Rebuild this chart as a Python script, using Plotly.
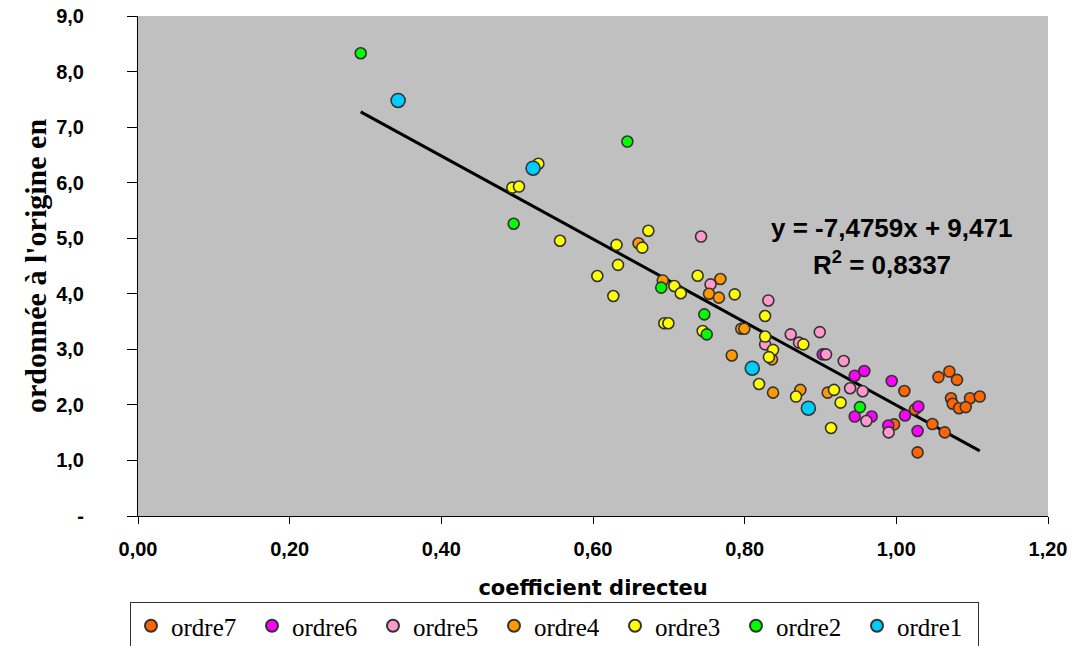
import plotly.graph_objects as go

# ---- data (x = coefficient directeur, y = ordonnée à l'origine) ----
ordre7_x = [1.0106, 1.0246, 0.997, 1.0475, 1.0638, 1.028, 1.0555, 1.0699, 1.080, 1.0721, 1.0743, 1.0972, 1.110, 1.0827, 1.0915]
ordre7_y = [2.25, 1.92, 1.65, 1.656, 1.506, 1.146, 2.50, 2.60, 2.45, 2.12, 2.02, 2.12, 2.15, 1.94, 1.96]

ordre6_x = [0.9029, 0.9451, 0.9578, 0.9939, 0.9451, 0.9675, 0.9894, 1.0114, 1.029, 1.028]
ordre6_y = [2.91, 2.525, 2.61, 2.43, 1.79, 1.79, 1.63, 1.81, 1.97, 1.53]

ordre5_x = [0.7425, 0.755, 0.8312, 0.827, 0.8607, 0.8717, 0.899, 0.9073, 0.9306, 0.939, 0.9556, 0.9605, 0.9899]
ordre5_y = [5.03, 4.17, 3.88, 3.09, 3.27, 3.12, 3.31, 2.91, 2.79, 2.30, 2.245, 1.71, 1.506]

ordre4_x = [0.660, 0.768, 0.692, 0.7530, 0.766, 0.783, 0.7955, 0.7995, 0.836, 0.8374, 0.8734, 0.9095]
ordre4_y = [4.91, 4.266, 4.24, 4.00, 3.93, 2.89, 3.37, 3.37, 2.82, 2.22, 2.27, 2.22]

ordre3_x = [0.528, 0.4936, 0.5024, 0.5565, 0.673, 0.631, 0.665, 0.633, 0.6057, 0.6268, 0.738, 0.7072, 0.7157, 0.7869,
            0.694, 0.6994, 0.7446, 0.8269, 0.827, 0.8374, 0.832, 0.819, 0.8774, 0.8677, 0.9178, 0.9265, 0.9139]
ordre3_y = [6.34, 5.91, 5.93, 4.955, 5.135, 4.88, 4.83, 4.52, 4.32, 3.96, 4.325, 4.14, 4.01, 3.99,
            3.47, 3.47, 3.33, 3.60, 3.23, 2.99, 2.86, 2.376, 3.09, 2.15, 2.27, 2.04, 1.584]

ordre2_x = [0.2937, 0.6453, 0.4954, 0.690, 0.7468, 0.750, 0.952]
ordre2_y = [8.33, 6.74, 5.26, 4.11, 3.63, 3.27, 1.96]

ordre1_x = [0.343, 0.521, 0.810, 0.884]
ordre1_y = [7.48, 6.26, 2.66, 1.94]

slope = -7.4759
intercept = 9.471
r2 = 0.8337

x_ticks = [0.0, 0.2, 0.4, 0.6, 0.8, 1.0, 1.2]
x_ticktext = ["0,00", "0,20", "0,40", "0,60", "0,80", "1,00", "1,20"]
y_ticks = [0, 1, 2, 3, 4, 5, 6, 7, 8, 9]
y_ticktext = ["-", "1,0", "2,0", "3,0", "4,0", "5,0", "6,0", "7,0", "8,0", "9,0"]

series = [
    ("ordre7", ordre7_x, ordre7_y, "#ff6600", 11),
    ("ordre6", ordre6_x, ordre6_y, "#ff00ff", 11),
    ("ordre5", ordre5_x, ordre5_y, "#ff99cc", 11),
    ("ordre4", ordre4_x, ordre4_y, "#ff9900", 11),
    ("ordre3", ordre3_x, ordre3_y, "#ffff00", 11),
    ("ordre2", ordre2_x, ordre2_y, "#00ff00", 11),
    ("ordre1", ordre1_x, ordre1_y, "#00ccff", 14),
]

fig = go.Figure()

# trendline computed from regression coefficients over data extent
all_x = ordre7_x + ordre6_x + ordre5_x + ordre4_x + ordre3_x + ordre2_x + ordre1_x
xmin, xmax = min(all_x), max(all_x)
fig.add_trace(go.Scatter(
    x=[xmin, xmax], y=[slope * xmin + intercept, slope * xmax + intercept],
    mode="lines", line=dict(color="black", width=3), showlegend=False, hoverinfo="skip"))

for name, xs, ys, col, size in series:
    fig.add_trace(go.Scatter(
        x=xs, y=ys, mode="markers", name=name,
        marker=dict(color=col, size=size, line=dict(color="#333333", width=1.6))))

ann_font = dict(family="Liberation Sans, Arial", size=26, color="black")
fig.add_annotation(x=0.9937, y=5.18, xref="x", yref="y",
                   text="<b>y = -7,4759x + 9,471</b>", showarrow=False, font=ann_font)
fig.add_annotation(x=0.981, y=4.54, xref="x", yref="y",
                   text="<b>R<sup>2</sup> = 0,8337</b>", showarrow=False, font=ann_font)

axis_font = dict(family="Liberation Sans, Arial", size=20, color="black")

fig.update_layout(
    width=1075, height=646,
    margin=dict(l=130, r=35, t=8, b=138, autoexpand=False),
    paper_bgcolor="white",
    plot_bgcolor="#c0c0c0",
    xaxis=dict(range=[0, 1.2], tickvals=x_ticks, ticktext=["<b>%s</b>" % t for t in x_ticktext],
               showgrid=False, zeroline=False, showline=True, linecolor="black", linewidth=1,
               ticks="outside", ticklen=7, tickcolor="black", automargin=False,
               ticklabelstandoff=8, ticklabeloverflow="allow",
               tickfont=axis_font,
               title=dict(text="<b>coefficient directeu</b>", standoff=21,
                          font=dict(family="DejaVu Sans", size=21, color="black"))),
    yaxis=dict(range=[0, 9], tickvals=y_ticks, ticktext=["<b>%s</b>" % t for t in y_ticktext],
               showgrid=False, zeroline=False, showline=True, linecolor="black", linewidth=1,
               ticks="outside", ticklen=10, tickcolor="black", automargin=False,
               ticklabelstandoff=39, ticklabeloverflow="allow",
               tickfont=axis_font,
               title=dict(text="<b>ordonnée à l'origine en</b>", standoff=0,
                          font=dict(family="Liberation Serif, Times New Roman", size=30, color="black"))),
    legend=dict(orientation="h", x=-0.0088, xanchor="left", y=-0.172, yanchor="top",
                bordercolor="#333333", borderwidth=1, bgcolor="white",
                font=dict(family="Liberation Serif, Times New Roman", size=25, color="black"),
                entrywidth=76, entrywidthmode="pixels", itemsizing="constant",
                tracegroupgap=0),
    showlegend=True,
)

fig.write_html("out.html")
